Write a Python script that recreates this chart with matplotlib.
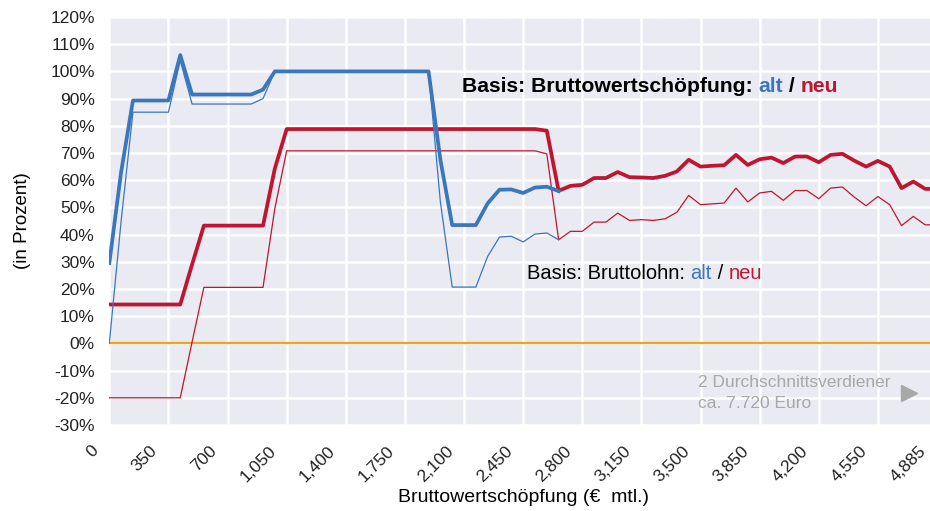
import numpy as np
import matplotlib
matplotlib.use("Agg")
import matplotlib.pyplot as plt
from matplotlib.transforms import ScaledTranslation

# ---------------- data ----------------
categories = list(range(0, 4831, 70)) + [4885]   # Bruttowertschöpfung (€ mtl.)

# Basis Bruttowertschöpfung "alt" (identical to "neu" beyond index 38)
bws_alt = [29.5, 63, 89.3, 89.3, 89.3, 89.3, 106, 91.5, 91.5, 91.5, 91.5, 91.5, 91.5, 93.3,
           100, 100, 100, 100, 100, 100, 100, 100, 100, 100, 100, 100, 100, 100,
           67.5, 43.5, 43.5, 43.5, 51.5, 56.5, 56.6, 55.3, 57.3, 57.6, 56.0]

# Basis Bruttowertschöpfung "neu"
bws_neu = [14.3, 14.3, 14.3, 14.3, 14.3, 14.3, 14.3, 29, 43.3, 43.3, 43.3, 43.3, 43.3, 43.3,
           64.3, 78.8, 78.8, 78.8, 78.8, 78.8, 78.8, 78.8, 78.8, 78.8, 78.8, 78.8, 78.8, 78.8,
           78.8, 78.8, 78.8, 78.8, 78.8, 78.8, 78.8, 78.8, 78.8, 78.2, 56.1,
           57.9, 58.3, 60.8, 60.8, 63.0, 61.1, 61.0, 60.8, 61.6, 63.2, 67.5, 65.0, 65.3, 65.5,
           69.3, 65.6, 67.7, 68.3, 66.3, 68.7, 68.7, 66.6, 69.3, 69.7, 67.2, 65.0, 67.1, 65.0,
           57.1, 59.5, 56.8, 56.8]

# Basis Bruttolohn "alt" (identical to "neu" beyond index 38)
bl_alt = [0, 45, 85, 85, 85, 85, 104, 88, 88, 88, 88, 88, 88, 90,
          100, 100, 100, 100, 100, 100, 100, 100, 100, 100, 100, 100, 100, 100,
          52, 20.7, 20.7, 20.7, 32, 39.1, 39.4, 37.3, 40.2, 40.6, 38.1]

# Basis Bruttolohn "neu"
bl_neu = [-20, -20, -20, -20, -20, -20, -20, 0.5, 20.6, 20.6, 20.6, 20.6, 20.6, 20.6,
          49.6, 70.8, 70.8, 70.8, 70.8, 70.8, 70.8, 70.8, 70.8, 70.8, 70.8, 70.8, 70.8, 70.8,
          70.8, 70.8, 70.8, 70.8, 70.8, 70.8, 70.8, 70.8, 70.8, 69.7, 38.1,
          41.2, 41.2, 44.6, 44.6, 47.9, 45.2, 45.5, 45.2, 45.8, 48.2, 54.4, 51.0, 51.3, 51.6,
          57.1, 52.0, 55.3, 55.9, 52.6, 56.2, 56.2, 53.2, 57.1, 57.5, 53.8, 50.6, 54.0, 51.0,
          43.3, 46.7, 43.6, 43.6]

y_ticks = list(range(-30, 121, 10))

BLUE = "#3B77BC"
RED = "#C01530"
ORANGE = "#F2A31B"
GRAY = "#A8A8A8"

plt.rcParams['font.family'] = ['Liberation Sans', 'DejaVu Sans']

fig = plt.figure(figsize=(9.30, 5.11), dpi=100)
ax = fig.add_axes([109.3 / 930, 1 - 425 / 511, (937 - 109.3) / 930, (425 - 17) / 511])
ax.set_facecolor("#EAEAF2")
for s in ax.spines.values():
    s.set_visible(False)

idx = np.arange(len(categories))
ax.axhline(0, color=ORANGE, lw=1.6, zorder=2)
ax.plot(idx, bws_neu, color=RED, lw=2.7, zorder=3, solid_joinstyle='round')
ax.plot(idx, bl_neu, color=RED, lw=0.9, zorder=3)
ax.plot(idx[:len(bws_alt)], bws_alt, color=BLUE, lw=2.7, zorder=4, solid_joinstyle='round')
ax.plot(idx[:len(bl_alt)], bl_alt, color=BLUE, lw=0.9, zorder=4)

ax.set_xlim(0, len(categories) - 1)
ax.set_ylim(-30, 120)
ax.set_yticks(y_ticks)
ax.set_yticklabels([f"{v}%" for v in y_ticks], fontsize=12.5)
xt = list(range(0, len(categories), 5))
ax.set_xticks(xt)
ax.set_xticklabels([f"{categories[i]:,}" for i in xt], rotation=45, ha='right', va='top',
                   fontsize=12.5)
ax.tick_params(axis='both', length=0, colors='#222222')
ax.tick_params(axis='y', pad=10.5)
ax.tick_params(axis='x', pad=13)
for lab in ax.get_xticklabels():
    lab.set_transform(lab.get_transform() + ScaledTranslation(-8 / 100, 0, fig.dpi_scale_trans))

ax.grid(True, color="white", lw=1.8)
ax.set_axisbelow(True)

ax.set_ylabel("(in Prozent)", fontsize=13.5, labelpad=14)
ax.set_xlabel("Bruttowertschöpfung (€  mtl.)", fontsize=14, labelpad=3)

# annotations with coloured words
def colored_text(x, y, pieces, **kw):
    t = ax.text(x, y, pieces[0][0], color=pieces[0][1], va='baseline', ha='left', zorder=6, **kw)
    prev = t
    for s, c in pieces[1:]:
        prev = ax.annotate(s, xy=(1, 0), xycoords=prev, va='bottom', ha='left',
                           color=c, zorder=6, **kw)
    return t

colored_text(29.8, 92.3, [("Basis: Bruttowertschöpfung: ", "black"), ("alt", BLUE),
                          (" / ", "black"), ("neu", RED)], fontsize=15.2, fontweight='bold')
colored_text(35.3, 23.6, [("Basis: Bruttolohn: ", "black"), ("alt", BLUE),
                          (" / ", "black"), ("neu", RED)], fontsize=14.5)

ax.text(49.8, -14.3, "2 Durchschnittsverdiener", color=GRAY, fontsize=12.5, va='center', ha='left', zorder=6)
ax.text(49.8, -22.0, "ca. 7.720 Euro", color=GRAY, fontsize=12.5, va='center', ha='left', zorder=6)
ax.plot([67.6], [-18.3], marker='>', color=GRAY, markersize=12, zorder=6, clip_on=False)

fig.savefig("out.png", dpi=100)
